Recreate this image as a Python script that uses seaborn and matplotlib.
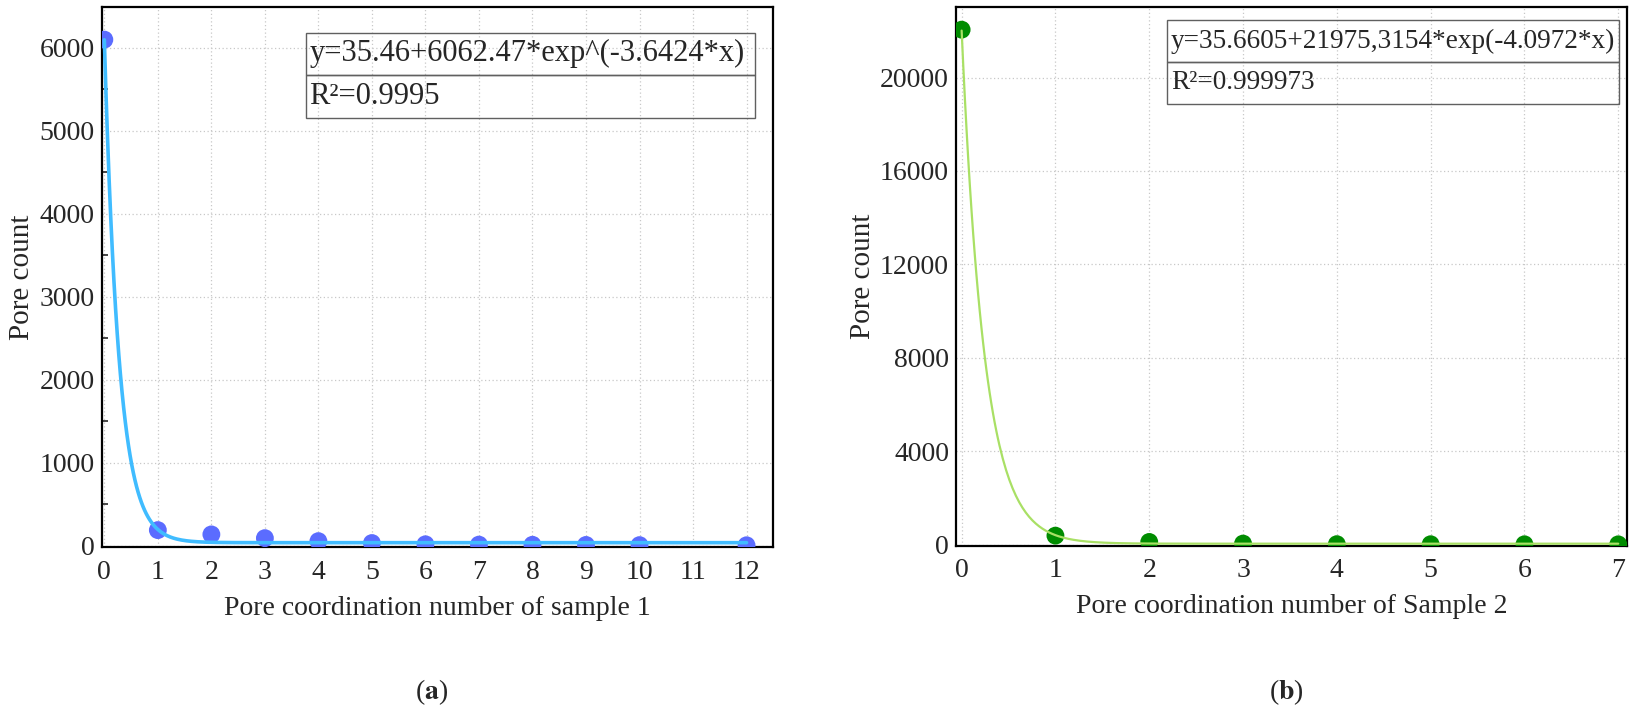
import numpy as np
import pandas as pd
import matplotlib
matplotlib.use('Agg')
import matplotlib.pyplot as plt
import seaborn as sns
from matplotlib.ticker import MultipleLocator

# sample 1
coord_1 = [0, 1, 2, 3, 4, 5, 6, 7, 8, 9, 10, 12]
count_1 = [6100, 187, 135, 90, 54, 31, 16, 12, 10, 8, 6, 4]
fit_1 = (35.46, 6062.47, 3.6424)
eq_1 = 'y=35.46+6062.47*exp^(-3.6424*x)'
r2_1 = 'R²=0.9995'

# sample 2
coord_2 = [0, 1, 2, 3, 4, 5, 6, 7]
count_2 = [22050, 380, 110, 40, 15, 12, 10, 8]
fit_2 = (35.6605, 21975.3154, 4.0972)
eq_2 = 'y=35.6605+21975,3154*exp(-4.0972*x)'
r2_2 = 'R²=0.999973'

sns.set_style('white')
plt.rcParams['font.family'] = ['Liberation Serif', 'DejaVu Serif']
plt.rcParams['mathtext.fontset'] = 'stix'

fig = plt.figure(figsize=(16.37, 7.2), dpi=100)
ax1 = fig.add_axes([0.0621, 0.2399, 0.4103, 0.75])
ax2 = fig.add_axes([0.5840, 0.2421, 0.4097, 0.7475])


def draw_panel(ax, xs, ys, fit, eq, r2, pt_color, line_color, lw, xlabel,
               xlim, ylim, ystep, yminor, box, boxfont):
    a, b, c = fit
    xfit = np.linspace(min(xs), max(xs), 400)
    df_fit = pd.DataFrame({'x': xfit, 'y': a + b * np.exp(-c * xfit)})
    df_pts = pd.DataFrame({'x': xs, 'y': ys})

    ax.grid(True, linestyle=(0, (1, 2)), color='#c8c8c8', linewidth=0.9)
    ax.set_axisbelow(True)
    sns.scatterplot(data=df_pts, x='x', y='y', ax=ax, color=pt_color, s=165,
                    edgecolor='none', zorder=3, clip_on=True)
    sns.lineplot(data=df_fit, x='x', y='y', ax=ax, color=line_color,
                 linewidth=lw, zorder=4)

    ax.set_xlim(*xlim)
    ax.set_ylim(*ylim)
    ax.xaxis.set_major_locator(MultipleLocator(1))
    ax.yaxis.set_major_locator(MultipleLocator(ystep))
    if yminor:
        ax.yaxis.set_minor_locator(MultipleLocator(yminor))
    ax.tick_params(axis='both', which='major', direction='in', length=8,
                   width=1.5, labelsize=20, color='black')
    ax.tick_params(axis='x', which='major', pad=9)
    ax.tick_params(axis='y', which='major', pad=5)
    ax.tick_params(axis='y', which='minor', direction='in', length=4,
                   width=1.2, left=True)
    for sp in ax.spines.values():
        sp.set_linewidth(1.6)
        sp.set_color('black')
    ax.set_xlabel(xlabel, fontsize=20, labelpad=8)
    ax.set_ylabel('Pore count', fontsize=21, labelpad=3)

    tbl = ax.table(cellText=[[eq], [r2]], cellLoc='left', bbox=box,
                   zorder=5)
    tbl.auto_set_font_size(False)
    tbl.set_fontsize(boxfont)
    for cell in tbl.get_celld().values():
        cell.set_facecolor('none')
        cell.set_edgecolor('#606060')
        cell.set_linewidth(1.0)
        cell.PAD = 0.008


draw_panel(ax1, coord_1, count_1, fit_1, eq_1, r2_1, '#5b6cff', '#40bcff', 2.6,
           'Pore coordination number of sample 1',
           (-0.05, 12.5), (-20, 6490), 1000, 500,
           [0.3037, 0.7956, 0.669, 0.1574], 22)
draw_panel(ax2, coord_2, count_2, fit_2, eq_2, r2_2, '#008c00', '#a9e065', 1.6,
           'Pore coordination number of Sample 2',
           (-0.06, 7.09), (-50, 23000), 4000, None,
           [0.315, 0.8207, 0.674, 0.1561], 19.6)

fig.text(0.2635, 0.039, r'($\mathbf{a}$)', ha='center', va='center', fontsize=20)
fig.text(0.786, 0.039, r'($\mathbf{b}$)', ha='center', va='center', fontsize=20)

fig.savefig('out.png', dpi=100)
